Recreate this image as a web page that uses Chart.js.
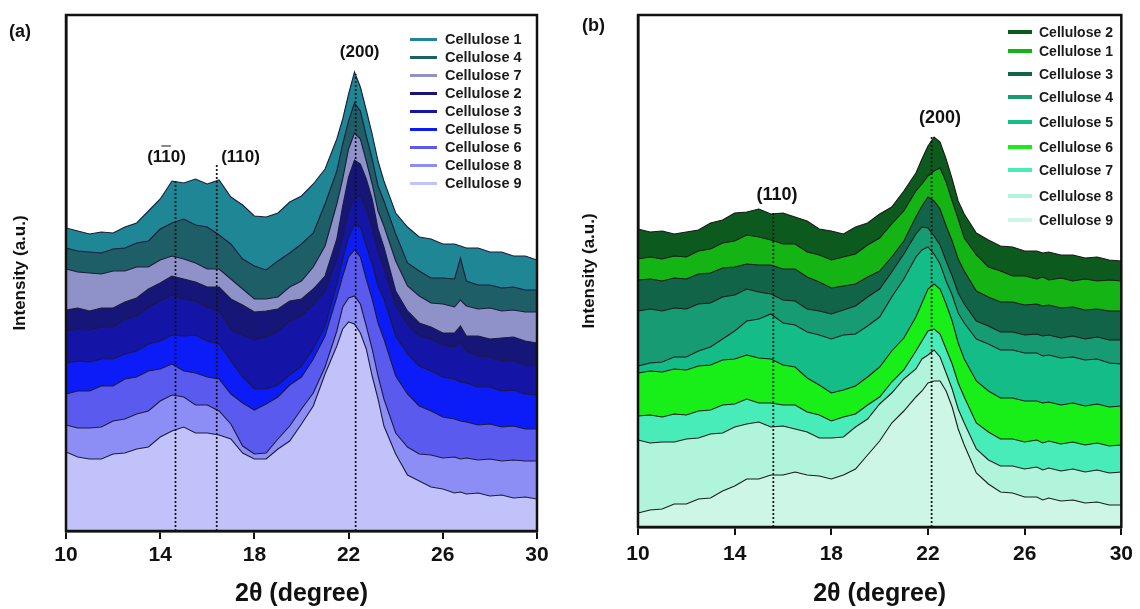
<!DOCTYPE html>
<html>
<head>
<meta charset="utf-8">
<script src="https://cdn.jsdelivr.net/npm/chart.js@4.4.0/dist/chart.umd.min.js"></script>
<style>
  html, body { margin:0; padding:0; background:#fff; }
  body { width:1140px; height:609px; position:relative; overflow:hidden; font-family: Arial, "Liberation Sans", sans-serif; color:#111; }
  .panel { position:absolute; top:0; width:570px; height:609px; }
  .lbl { position:absolute; font-weight:bold; white-space:nowrap; color:#111; line-height:1; }
  .peak { transform:translate(-50%,-50%); }
  .leg { position:absolute; display:flex; align-items:center; font-weight:bold; white-space:nowrap; color:#1a1a1a; transform:translateY(-50%); }
  .sw { display:inline-block; }
</style>
</head>
<body>
<div class="panel" style="left:0"><canvas id="ca" width="570" height="609"></canvas></div>
<div class="panel" style="left:570px"><canvas id="cb" width="570" height="609"></canvas></div>
<script>
// ---------------- DATA ----------------
const twoTheta = [10,10.5,11,11.5,12,12.5,13,13.5,14,14.5,15,15.5,16,16.5,17,17.5,18,18.5,19,19.5,20,20.5,21,21.5,21.75,22,22.25,22.5,22.75,23,23.25,23.5,24,24.5,25,25.5,26,26.5,26.75,27,27.5,28,28.5,29,29.5,30];
const xTicks = [10,14,18,22,26,30];

// Panel (a) – intensities (a.u.), listed top curve to bottom curve
const labelsA = ['Cellulose 1','Cellulose 4','Cellulose 7','Cellulose 2','Cellulose 3','Cellulose 5','Cellulose 6','Cellulose 8','Cellulose 9'];
const aC1 = [303,300,297,299,298,304,308,320,332,350,348,352,347,351,334,326,315,314,318,329,335,347,362,392,412,437,459,444,421,397,370,350,318,304,294,292,287,287,285,283,283,279,279,275,275,271];
const aC4 = [283,280,279,278,282,283,288,290,302,308,312,306,304,296,287,272,265,261,270,278,287,298,327,360,387,410,428,420,395,372,345,330,297,268,260,253,253,252,273,250,246,246,243,244,241,241];
const aC7 = [262,259,258,257,260,260,264,264,271,275,272,268,262,262,252,242,232,232,234,244,250,264,285,327,352,382,398,392,370,347,320,305,270,245,235,228,227,224,231,225,222,223,220,221,219,219];
const aC2 = [221,223,220,223,223,229,233,242,248,255,252,249,244,244,232,226,219,220,222,230,232,242,255,292,325,354,371,367,352,332,302,284,240,220,208,204,198,198,205,195,195,192,193,194,190,188];
const aC3 = [200,202,201,204,204,212,215,224,230,236,232,230,224,220,202,196,191,194,200,210,215,227,240,272,295,320,333,336,322,304,280,264,225,207,195,192,186,184,189,180,175,174,170,170,166,165];
const aC5 = [168,170,169,172,172,177,180,187,190,196,195,196,190,187,170,154,142,142,146,156,165,182,205,247,272,294,307,304,285,267,245,232,195,177,165,160,154,152,149,148,144,144,140,141,137,136];
const aC6 = [137,140,140,145,145,152,154,160,162,167,160,158,154,152,137,128,121,127,134,146,154,172,195,234,255,274,281,274,252,232,208,192,155,137,125,120,114,112,110,109,106,107,104,105,102,102];
const aC8 = [106,103,103,104,110,112,117,120,130,136,134,126,126,120,107,85,77,78,92,105,122,138,164,200,224,233,235,227,205,182,155,132,98,84,77,76,73,74,72,73,71,72,70,71,70,70];
const aC9 = [79,74,72,72,77,78,82,84,94,100,104,98,98,96,92,78,72,72,82,90,107,125,157,185,202,209,207,198,182,155,132,105,77,56,50,44,42,38,39,37,38,35,36,33,34,32];
const seriesA = [aC1,aC4,aC7,aC2,aC3,aC5,aC6,aC8,aC9];
const peakPosA = [14.65, 16.4, 22.3];
const peakTopA = [352, 366, 457];

// Panel (b)
const labelsB = ['Cellulose 2','Cellulose 1','Cellulose 3','Cellulose 4','Cellulose 5','Cellulose 6','Cellulose 7','Cellulose 8','Cellulose 9'];
const bC2 = [298,295,296,293,295,297,304,307,314,315,318,313,314,310,306,298,296,293,300,304,313,320,336,354,368,381,390,385,368,348,326,313,294,287,281,280,276,276,274,275,272,272,269,270,267,266];
const bC1 = [268,270,268,271,270,276,278,284,286,292,290,287,283,283,275,272,267,270,273,282,289,303,316,336,343,351,356,359,345,326,308,289,272,260,256,251,251,248,250,247,249,246,248,246,247,246];
const bC3 = [247,248,246,249,248,253,254,259,260,263,262,262,258,258,250,245,239,241,243,250,256,270,286,310,321,330,326,318,301,286,268,256,236,230,225,225,222,223,221,222,219,220,217,218,216,216];
const bC4 = [216,218,216,219,218,223,224,230,232,238,235,233,227,226,218,216,213,217,221,230,238,255,273,293,300,299,291,282,266,251,234,223,206,201,195,195,192,193,191,192,189,191,188,190,187,187];
const bC5 = [161,164,165,170,170,176,180,188,196,206,208,213,204,202,195,192,188,192,193,201,210,230,248,270,277,280,273,263,246,232,214,204,188,183,177,177,174,174,171,172,169,170,167,168,164,163];
const bC6 = [154,156,155,158,157,161,162,167,168,172,169,168,162,160,149,142,134,137,141,150,160,176,189,210,224,238,243,238,223,206,184,168,146,136,129,129,126,126,124,125,122,124,121,123,120,121];
const bC7 = [111,112,110,113,112,116,117,122,123,128,124,124,122,122,115,112,106,110,113,122,130,145,157,176,186,196,198,193,178,163,144,130,104,95,88,88,85,87,84,86,83,85,82,84,81,82];
const bC8 = [87,84,85,85,88,89,93,94,100,103,105,100,101,98,95,89,89,90,100,108,123,134,148,158,168,172,177,170,154,138,118,104,78,67,61,61,58,60,57,59,56,58,55,57,54,55];
const bC9 = [14,17,18,23,23,28,29,36,41,48,48,52,52,55,52,51,48,52,58,72,86,104,116,130,136,144,146,146,136,120,98,82,54,43,35,34,30,30,27,29,26,27,24,25,22,22];
const seriesB = [bC2,bC1,bC3,bC4,bC5,bC6,bC7,bC8,bC9];
const peakPosB = [15.6, 22.15];
const peakTopB = [315, 391];

// ---------------- STYLE ----------------
const FONT = 'Arial, "Liberation Sans", sans-serif';
const colorsA = ['#1f8696','#1e5e66','#8e92c8','#161678','#1414a6','#0c1cf8','#5a5aee','#8c8ef6','#c2c2fa'];
const colorsB = ['#0d5a1e','#14b414','#126448','#169b72','#14bc88','#18ee18','#48ecb8','#b0f4dc','#cdf6e6'];

const framePlugin = {
  id: 'frame',
  afterDatasetsDraw(chart) {
    const {ctx, chartArea: a} = chart;
    ctx.save();
    ctx.strokeStyle = '#111';
    ctx.lineWidth = 2.5;
    ctx.strokeRect(a.left, a.top, a.right - a.left, a.bottom - a.top);
    ctx.restore();
  }
};

function buildChart(canvasId, series, colors, labels, peakPos, peakTop, o) {
  const datasets = [];
  // bottom curve first so it is painted on top of the curves above it
  for (let i = series.length - 1; i >= 0; i--) {
    datasets.push({
      label: labels[i],
      data: twoTheta.map((x, k) => ({x: x, y: series[i][k]})),
      backgroundColor: colors[i],
      borderColor: o.lineColor,
      borderWidth: 1.1,
      fill: 'origin',
      pointRadius: 0,
      tension: 0,
      order: 1
    });
  }
  peakPos.forEach((p, k) => datasets.push({
    label: 'peak',
    data: [{x: p, y: 0}, {x: p, y: peakTop[k]}],
    borderColor: '#111',
    borderWidth: 1.7,
    borderDash: [2, 2],
    pointRadius: 0,
    fill: false,
    order: 0
  }));
  return new Chart(document.getElementById(canvasId), {
    type: 'line',
    data: { datasets },
    plugins: [framePlugin],
    options: {
      responsive: false,
      animation: false,
      devicePixelRatio: 1,
      layout: { padding: { top: 15, right: o.padRight, left: 0, bottom: 0 } },
      plugins: { legend: { display: false }, tooltip: { enabled: false } },
      scales: {
        x: {
          type: 'linear', min: 10, max: 30,
          afterBuildTicks(s) { s.ticks = xTicks.map(v => ({value: v})); },
          ticks: { font: { size: 21, weight: 'bold', family: FONT }, color: '#111', padding: o.tickPad, maxRotation: 0 },
          grid: { display: true, drawOnChartArea: false, drawTicks: true, tickLength: 8, color: '#111', lineWidth: 2 },
          border: { display: true, color: '#111', width: 2.5 },
          title: { display: true, text: '2\u03b8 (degree)', color: '#111', font: { size: 25, weight: 'bold', family: FONT }, padding: { top: 0, bottom: 0 } },
          afterFit(s) { s.height = o.xHeight; }
        },
        y: {
          min: 0, max: o.yMax,
          ticks: { display: false },
          grid: { display: false },
          border: { display: true, color: '#111', width: 2.5 },
          title: { display: true, text: 'Intensity (a.u.)', color: '#111', font: { size: 17, weight: 'bold', family: FONT }, padding: { top: o.yTitlePad, bottom: 0 } },
          afterFit(s) { s.width = o.yWidth; }
        }
      }
    }
  });
}

const chartA = buildChart('ca', seriesA, colorsA, labelsA, peakPosA, peakTopA,
  { padRight: 33, xHeight: 78, yWidth: 66, yMax: 516, tickPad: 4, yTitlePad: 10, lineColor: '#1c1c3c' });
const chartB = buildChart('cb', seriesB, colorsB, labelsB, peakPosB, peakTopB,
  { padRight: 15, xHeight: 82, yWidth: 68, yMax: 512, tickPad: 7, yTitlePad: 9, lineColor: '#1a1a1a' });

// ---------------- TEXT OVERLAYS ----------------
function addText(html, left, top, size, cls) {
  const d = document.createElement('div');
  d.className = 'lbl ' + (cls || '');
  d.style.left = left + 'px';
  d.style.top = top + 'px';
  d.style.fontSize = size + 'px';
  d.innerHTML = html;
  document.body.appendChild(d);
  return d;
}
addText('(a)', 9, 22, 18);
addText('(b)', 582, 16, 18);

// peak labels placed through the chart scales
function peakLabel(chart, offsetX, html, x, y, size) {
  const px = offsetX + chart.scales.x.getPixelForValue(x);
  const py = chart.scales.y.getPixelForValue(y);
  addText(html, px, py, size, 'peak');
}
peakLabel(chartA, 0, '(1<span style="text-decoration:overline">1</span>0)', 14.27, 375, 17);
peakLabel(chartA, 0, '(110)', 17.41, 375, 17);
peakLabel(chartA, 0, '(200)', 22.47, 480, 17);
peakLabel(chartB, 570, '(110)', 15.75, 333, 18);
peakLabel(chartB, 570, '(200)', 22.5, 410, 18);

// legends
function legend(labels, colors, rowsY, lineX, lineW, lineH, textGap, size) {
  labels.forEach((t, i) => {
    const d = document.createElement('div');
    d.className = 'leg';
    d.style.left = lineX + 'px';
    d.style.top = rowsY[i] + 'px';
    d.style.fontSize = size + 'px';
    const sw = document.createElement('span');
    sw.className = 'sw';
    sw.style.width = lineW + 'px';
    sw.style.height = lineH + 'px';
    sw.style.background = colors[i];
    sw.style.marginRight = textGap + 'px';
    d.appendChild(sw);
    d.appendChild(document.createTextNode(t));
    document.body.appendChild(d);
  });
}
legend(labelsA, colorsA, [39,57,75,93,111,129,147,165,183], 410, 27, 3, 8, 14.5);
legend(labelsB, colorsB, [32,51,74,97,122,147,170,196,220], 1008, 24, 4, 7, 14);
</script>
</body>
</html>
